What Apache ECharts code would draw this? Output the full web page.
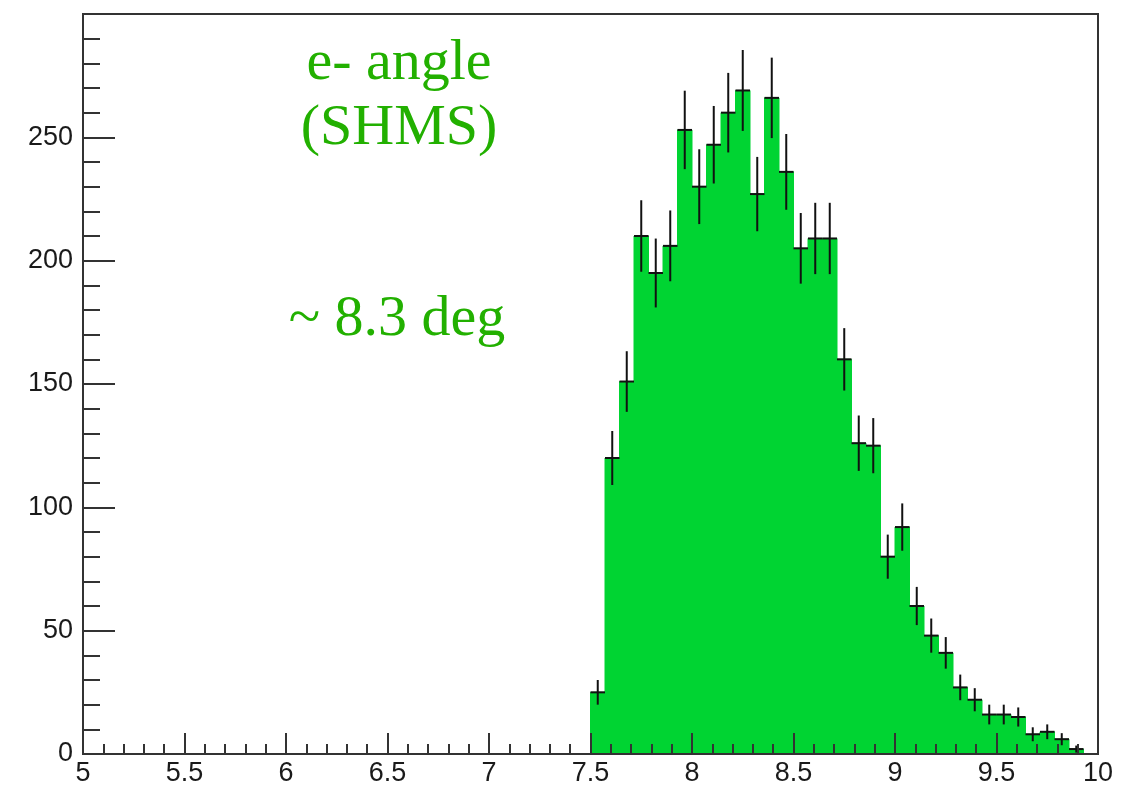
<!DOCTYPE html>
<html>
<head>
<meta charset="utf-8">
<script src="https://cdn.jsdelivr.net/npm/echarts@6/dist/echarts.min.js"></script>
<style>
  html, body { margin: 0; padding: 0; background: #fff; }
  #chart { width: 1143px; height: 790px; }
</style>
</head>
<body>
<div id="chart"></div>
<script>
// Histogram definition: 70 bins between 5 and 10
const histLow = 5;
const histHigh = 10;
const nBins = 70;
// First filled bin index (bin starting at 7.5)
const firstBin = 35;
// Entries per bin, from 7.5 upward
const counts = [25, 120, 151, 210, 195, 206, 253, 230, 247, 260, 269, 227, 266, 236, 205, 209, 209,
                160, 126, 125, 80, 92, 60, 48, 41, 27, 22, 16, 16, 15, 8, 9, 6, 2];
const xTicks = ['5', '5.5', '6', '6.5', '7', '7.5', '8', '8.5', '9', '9.5', '10'];
const yTicks = ['0', '50', '100', '150', '200', '250'];
const annotLines = ['e- angle', '(SHMS)', '~ 8.3 deg'];

const binWidth = (histHigh - histLow) / nBins;
const binData = counts.map((c, i) => {
  const lo = histLow + (firstBin + i) * binWidth;
  return [lo, lo + binWidth, c, Math.sqrt(c)];
});

const chart = echarts.init(document.getElementById('chart'), null, { renderer: 'canvas' });
const axisColor = '#333';
const fillColor = '#00d432';
const labelFont = { fontFamily: 'Liberation Sans', fontSize: 27, color: '#1a1a1a' };
const annotFont = '58px "Liberation Serif"';
const annotColor = '#22b000';

chart.setOption({
  animation: false,
  backgroundColor: '#fff',
  grid: { left: 83, right: 45, top: 14, bottom: 36, show: true, borderColor: axisColor, borderWidth: 2 },
  xAxis: {
    type: 'value', min: histLow, max: histHigh, interval: 0.5, z: 5,
    axisLine: { show: true, onZero: false, lineStyle: { color: axisColor, width: 2 } },
    axisTick: { show: true, inside: true, length: 21, lineStyle: { color: axisColor, width: 2 } },
    minorTick: { show: true, splitNumber: 5, length: 10, lineStyle: { color: axisColor, width: 2 } },
    splitLine: { show: false },
    axisLabel: Object.assign({ margin: 6, formatter: v => xTicks[Math.round((v - histLow) / 0.5)] }, labelFont)
  },
  yAxis: {
    type: 'value', min: 0, max: 300, interval: 50, z: 5,
    axisLine: { show: true, lineStyle: { color: axisColor, width: 2 } },
    axisTick: { show: true, inside: true, length: 32, lineStyle: { color: axisColor, width: 2 } },
    minorTick: { show: true, splitNumber: 5, length: 17, lineStyle: { color: axisColor, width: 2 } },
    splitLine: { show: false },
    axisLabel: Object.assign({ margin: 10, showMaxLabel: false,
      formatter: v => { const k = Math.round(v / 50); return k < yTicks.length ? yTicks[k] : ''; } }, labelFont)
  },
  series: [
    {
      // filled bins; a thin stroke in the fill colour closes the gaps between neighbours
      type: 'custom', z: 2,
      data: binData,
      encode: { x: [0, 1], y: 2 },
      renderItem: (params, api) => {
        const p0 = api.coord([api.value(0), 0]);
        const p1 = api.coord([api.value(1), api.value(2)]);
        return {
          type: 'rect',
          shape: { x: p0[0], y: p1[1], width: p1[0] - p0[0], height: p0[1] - p1[1] },
          style: { fill: fillColor, stroke: fillColor, lineWidth: 1 }
        };
      }
    },
    {
      // statistical error bars with bin-width markers
      type: 'custom', z: 3,
      data: binData,
      encode: { x: [0, 1], y: 2 },
      renderItem: (params, api) => {
        const lo = api.value(0), hi = api.value(1), v = api.value(2), e = api.value(3);
        const mid = (lo + hi) / 2;
        const top = api.coord([mid, v + e]);
        const bot = api.coord([mid, Math.max(v - e, 0)]);
        const l = api.coord([lo, v]);
        const r = api.coord([hi, v]);
        const st = { stroke: '#111', lineWidth: 2 };
        return {
          type: 'group',
          children: [
            { type: 'line', shape: { x1: top[0], y1: top[1], x2: bot[0], y2: bot[1] }, style: st },
            { type: 'line', shape: { x1: l[0], y1: l[1], x2: r[0], y2: r[1] }, style: st }
          ]
        };
      }
    }
  ],
  graphic: [
    { type: 'text', x: 399, y: 64, style: { text: annotLines[0], fill: annotColor, font: annotFont, textAlign: 'center', textVerticalAlign: 'middle' } },
    { type: 'text', x: 399, y: 129, style: { text: annotLines[1], fill: annotColor, font: annotFont, textAlign: 'center', textVerticalAlign: 'middle' } },
    { type: 'text', x: 397, y: 320, style: { text: annotLines[2], fill: annotColor, font: annotFont, textAlign: 'center', textVerticalAlign: 'middle' } }
  ]
});
</script>
</body>
</html>
